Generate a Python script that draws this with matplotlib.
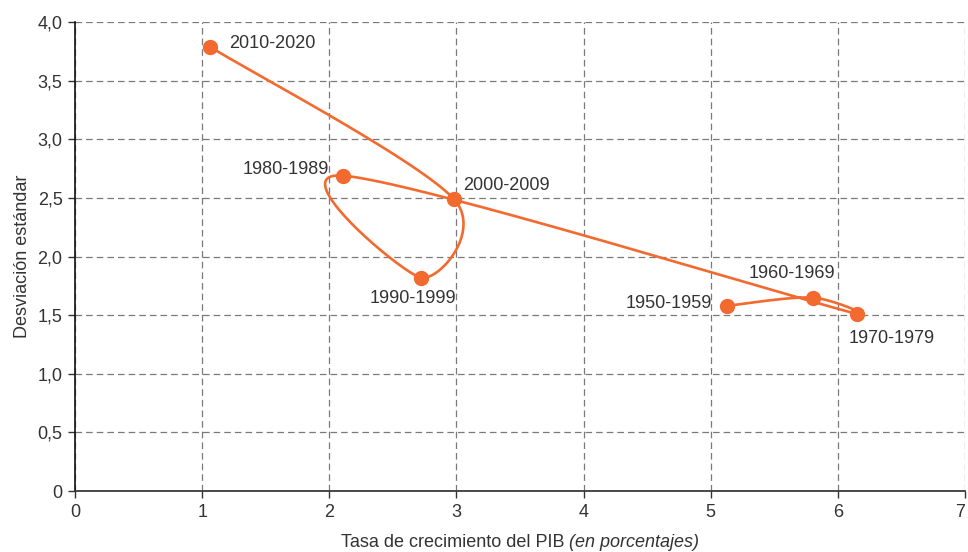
import numpy as np
import matplotlib
matplotlib.use("Agg")
import matplotlib.pyplot as plt

plt.rcParams['font.family'] = ['Liberation Sans', 'DejaVu Sans']

periods = ["1950-1959", "1960-1969", "1970-1979", "1980-1989",
           "1990-1999", "2000-2009", "2010-2020"]
growth = [5.13, 5.80, 6.15, 2.11, 2.72, 2.98, 1.06]
stdev = [1.58, 1.65, 1.51, 2.69, 1.82, 2.49, 3.79]

# label offsets in points, and alignment
label_pos = {
    "1950-1959": ((-11, 1.5), "right", "center"),
    "1960-1969": ((-15, 17), "center", "center"),
    "1970-1979": ((-6, -18), "left", "center"),
    "1980-1989": ((-10, 4.5), "right", "center"),
    "1990-1999": ((-6, -15), "center", "center"),
    "2000-2009": ((6.5, 10), "left", "center"),
    "2010-2020": ((14, 2.5), "left", "center"),
}

orange = "#F26A2E"
txt = "#333333"

fig = plt.figure(figsize=(9.68, 5.52), dpi=100)
ax = fig.add_axes([0.0775, 0.1105, 0.9195, 0.8495])
ax.set_xlim(0, 7)
ax.set_ylim(0, 4)


def smooth_line(px, py, n=60):
    # excel-like smoothing: bezier segments, handles limited to half a segment
    pts = np.column_stack([px, py])
    out = []
    for i in range(len(pts) - 1):
        p1, p2 = pts[i], pts[i + 1]
        p0 = pts[i - 1] if i > 0 else p1
        p3 = pts[i + 2] if i + 2 < len(pts) else p2
        d12 = np.hypot(*(p2 - p1))
        d02 = np.hypot(*(p2 - p0))
        d13 = np.hypot(*(p3 - p1))
        f0 = 1 / 6 if d02 / 6 < d12 / 2 else d12 / d02 / 2
        f1 = 1 / 6 if d13 / 6 < d12 / 2 else d12 / d13 / 2
        c1 = p1 + f0 * (p2 - p0)
        c2 = p2 - f1 * (p3 - p1)
        t = np.linspace(0, 1, n)[:, None]
        seg = ((1 - t) ** 3 * p1 + 3 * (1 - t) ** 2 * t * c1
               + 3 * (1 - t) * t ** 2 * c2 + t ** 3 * p2)
        out.append(seg if i == 0 else seg[1:])
    return np.vstack(out)


# smooth in display space
disp = ax.transData.transform(np.column_stack([growth, stdev]))
curve = smooth_line(disp[:, 0], disp[:, 1])
curve = ax.transData.inverted().transform(curve)
ax.plot(curve[:, 0], curve[:, 1], color=orange, lw=1.9, zorder=3,
        solid_capstyle="round")
ax.plot(growth, stdev, "o", color=orange, ms=10, zorder=4)

for name, x, y in zip(periods, growth, stdev):
    off, ha, va = label_pos[name]
    ax.annotate(name, (x, y), xytext=off, textcoords="offset points",
                ha=ha, va=va, fontsize=13, color=txt)

ax.set_xticks(range(8))
ax.set_yticks(np.arange(0, 4.01, 0.5))
ax.set_yticklabels(["0"] + [f"{v:.1f}".replace(".", ",") for v in np.arange(0.5, 4.01, 0.5)])
ax.grid(True, ls=(0, (5.3, 3.2)), color="#7a7a7a", lw=0.9)
ax.set_axisbelow(True)
for s in ["top", "right"]:
    ax.spines[s].set_visible(False)
ax.spines["left"].set_color("#111111")
ax.spines["bottom"].set_color("#3a3a3a")
ax.spines["left"].set_linewidth(1.2)
ax.spines["bottom"].set_linewidth(1.3)
ax.tick_params(direction="out", length=5, width=1, colors="#333333",
               labelsize=13, labelcolor=txt)
ax.tick_params(axis="x", pad=4)
ax.tick_params(axis="y", pad=4)
# keep the last x label inside the figure
ax.get_xticklabels()[-1].set_horizontalalignment("right")

ax.set_ylabel("Desviación estándar", fontsize=13, color=txt, labelpad=5)

# x label: regular part + italic part
t1 = fig.text(0, 0.009, "Tasa de crecimiento del PIB ", fontsize=13, color=txt,
              ha="left", va="baseline")
t2 = fig.text(0, 0.009, "(en porcentajes)", fontsize=13, color=txt,
              style="italic", ha="left", va="baseline")
fig.canvas.draw()
r = fig.canvas.get_renderer()
w1 = t1.get_window_extent(r).width
w2 = t2.get_window_extent(r).width
cx = (0.0775 + 0.9195 / 2) * fig.bbox.width
x0 = cx - (w1 + w2) / 2
t1.set_x(x0 / fig.bbox.width)
t2.set_x((x0 + w1) / fig.bbox.width)

fig.savefig("out.png", dpi=100)
